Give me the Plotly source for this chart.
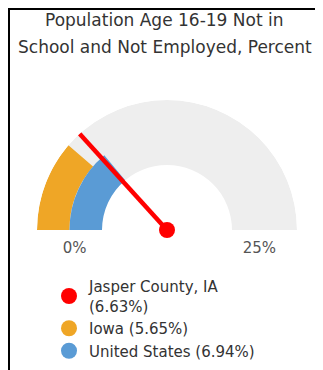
import plotly.graph_objects as go

# ---- data ----
gauge_max = 25.0
series_names = ["Jasper County, IA", "Iowa", "United States"]
series_values = [6.63, 5.65, 6.94]
series_colors = ["#ff0000", "#efa626", "#5a9bd5"]
tick_labels = ["0%", "25%"]
title_lines = ["Population Age 16-19 Not in", "School and Not Employed, Percent"]

W, H = 323, 370
def deg(v):
    return v / gauge_max * 180.0

fig = go.Figure()

# background track
fig.add_trace(go.Barpolar(theta=[90], width=[180], base=[1], r=[1],
                          marker=dict(color="#eeeeee", line=dict(width=0)),
                          showlegend=False, hoverinfo="skip"))
# Iowa (outer band)
fig.add_trace(go.Barpolar(theta=[deg(series_values[1]) / 2], width=[deg(series_values[1])],
                          base=[1.5], r=[0.5],
                          marker=dict(color=series_colors[1], line=dict(width=0)),
                          showlegend=False))
# United States (inner band)
fig.add_trace(go.Barpolar(theta=[deg(series_values[2]) / 2], width=[deg(series_values[2])],
                          base=[1.0], r=[0.5],
                          marker=dict(color=series_colors[2], line=dict(width=0)),
                          showlegend=False))
# needle
fig.add_trace(go.Scatterpolar(r=[0, 2.02], theta=[deg(series_values[0])] * 2, mode="lines",
                              line=dict(color=series_colors[0], width=4.5),
                              showlegend=False, hoverinfo="skip"))
fig.add_trace(go.Scatterpolar(r=[0], theta=[0], mode="markers",
                              marker=dict(color=series_colors[0], size=16),
                              showlegend=False, hoverinfo="skip"))
# tick labels
fig.add_trace(go.Scatterpolar(r=[1.42, 1.42], theta=[0, 180], mode="markers+text",
                              text=tick_labels, textposition="bottom center",
                              marker=dict(size=17, color="rgba(0,0,0,0)"),
                              textfont=dict(size=15, color="#555555"),
                              cliponaxis=False, showlegend=False, hoverinfo="skip"))

# legend entries
for name, val, col in zip(series_names, series_values, series_colors):
    label = f"{name}<br>({val:.2f}%)" if name.startswith("Jasper") else f"{name} ({val:.2f}%)"
    fig.add_trace(go.Scatterpolar(r=[None], theta=[None], mode="markers", name=label,
                                  marker=dict(color=col, size=16)))

annotations = []
for i, line in enumerate(title_lines):
    annotations.append(dict(text=line, xref="paper", yref="paper", x=0.5 - 5 / W,
                            y=1 - (12 + 27 * i) / H, xanchor="center", yanchor="middle",
                            showarrow=False, font=dict(size=17, color="#333333")))

fig.update_layout(
    width=W, height=H,
    margin=dict(l=0, r=0, t=0, b=0),
    paper_bgcolor="white", plot_bgcolor="white",
    font=dict(family="DejaVu Sans", color="#333333"),
    annotations=annotations,
    polar=dict(
        domain=dict(x=[29 / W, 289 / W], y=[(H - 222) / H, (H - 92) / H]),
        sector=[0, 180], hole=0, bgcolor="rgba(0,0,0,0)",
        radialaxis=dict(range=[0, 2], visible=False),
        angularaxis=dict(rotation=180, direction="clockwise", visible=False),
        bargap=0,
    ),
    legend=dict(x=41 / W, y=(H - 262) / H, xanchor="left", yanchor="top",
                font=dict(size=15, color="#333333"), itemsizing="trace",
                tracegroupgap=0, bgcolor="rgba(0,0,0,0)"),
    shapes=[
        dict(type="rect", xref="paper", yref="paper", x0=0, x1=1,
             y0=1 - 2 / H, y1=1, fillcolor="black", line=dict(width=0), layer="above"),
        dict(type="rect", xref="paper", yref="paper", x0=0, x1=2 / W,
             y0=0, y1=1, fillcolor="black", line=dict(width=0), layer="above"),
    ],
)

fig.write_html("out.html")
